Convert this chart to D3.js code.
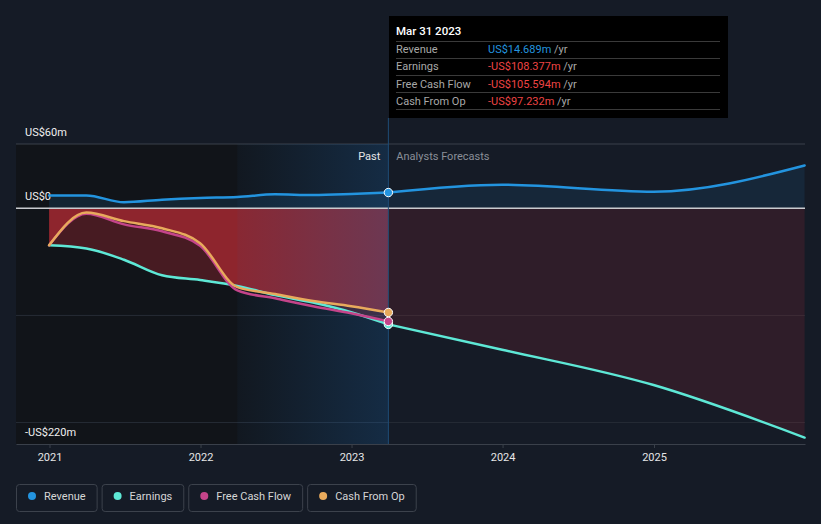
<!DOCTYPE html>
<html>
<head>
<meta charset="utf-8">
<script src="https://cdn.jsdelivr.net/npm/d3@7/dist/d3.min.js"></script>
<style>
  html, body { margin: 0; padding: 0; background: #151b26; }
  svg { display: block; font-family: Roboto, "Open Sans", sans-serif; }
</style>
</head>
<body>
<svg id="chart" width="821" height="524"></svg>
<script>
// ---- data (US$ millions) ----
const pastDates = ["2020-12-31","2021-03-31","2021-06-30","2021-09-30","2021-12-31",
                   "2022-03-31","2022-06-30","2022-09-30","2022-12-31","2023-03-31"];
const revenuePast  = [12, 12, 5.6, 8, 9.6, 10.5, 13, 12.4, 13.3, 14.689];
const earningsPast = [-34.5, -37.5, -48, -62.5, -67, -72.5, -81, -88, -97, -108.377];
const fcfPast      = [-34.5, -5, -15, -21.5, -35, -76.6, -84, -91.4, -98, -105.594];
const cfoPast      = [-34.5, -4, -12, -18.6, -32.6, -73.6, -80, -86.5, -91.4, -97.232];
const forecastDates     = ["2023-03-31","2023-12-31","2024-12-31","2025-12-31"];
const revenueForecast   = [14.689, 22, 15.5, 40];
const earningsForecast  = [-108.377, -132, -165, -214];
const yTickValues = [60, 0, -220];
const yTickLabels = ["US$60m", "US$0", "-US$220m"];
const yGridValues = [-100, -200];
const xTickYears  = [2021, 2022, 2023, 2024, 2025];
const seriesNames  = ["Revenue", "Earnings", "Free Cash Flow", "Cash From Op"];
const seriesColors = ["#2394df", "#5ee8d6", "#c4448a", "#e8aa5c"];
const tooltipTitle  = "Mar 31 2023";
const tooltipValues = ["US$14.689m", "-US$108.377m", "-US$105.594m", "-US$97.232m"];

// ---- setup ----
const parse = d3.timeParse("%Y-%m-%d");
const svg = d3.select("#chart");
const W = 821, H = 524;
const pL = 16, pR = 805, pT = 144, pB = 444;

const x = d3.scaleTime()
  .domain([new Date(2020, 9, 12), new Date(2026, 0, 1)])
  .range([pL, pR]);
const y = d3.scaleLinear().domain([-220, 60]).range([pB, pT]);

const nowDate = parse(pastDates[pastDates.length - 1]);
const xNow = x(nowDate);
const xHighlight = x(parse("2022-03-31"));

const zip = (dates, vals) => dates.map((d, i) => ({ date: parse(d), v: vals[i] }));
const revP = zip(pastDates, revenuePast);
const earnP = zip(pastDates, earningsPast);
const fcfP = zip(pastDates, fcfPast);
const cfoP = zip(pastDates, cfoPast);
const revF = zip(forecastDates, revenueForecast);
const earnF = zip(forecastDates, earningsForecast);

const curve = d3.curveMonotoneX;
const line = d3.line().x(d => x(d.date)).y(d => y(d.v)).curve(curve);
const area = d3.area().x(d => x(d.date)).y0(y(0)).y1(d => y(d.v)).curve(curve);

const defs = svg.append("defs");
const hg = defs.append("linearGradient").attr("id", "hl").attr("x1", 0).attr("x2", 1).attr("y1", 0).attr("y2", 0);
hg.append("stop").attr("offset", "0%").attr("stop-color", "rgb(30,100,170)").attr("stop-opacity", 0.05);
hg.append("stop").attr("offset", "100%").attr("stop-color", "rgb(30,100,170)").attr("stop-opacity", 0.3);

// background
svg.append("rect").attr("width", W).attr("height", H).attr("fill", "#151b26");
// past dark region
svg.append("rect").attr("x", pL).attr("y", pT).attr("width", xNow - pL).attr("height", pB - pT)
  .attr("fill", "#111419");

// grid lines
svg.append("g").selectAll("line").data(yGridValues).join("line")
  .attr("x1", pL).attr("x2", pR).attr("y1", d => y(d)).attr("y2", d => y(d))
  .attr("stroke", "#262c36").attr("stroke-width", 1);
svg.append("line").attr("x1", pL).attr("x2", pR).attr("y1", y(60)).attr("y2", y(60))
  .attr("stroke", "#3a404a").attr("stroke-width", 1);

// fills
svg.append("path").datum(revP).attr("d", area).attr("fill", "rgb(35,148,223)").attr("fill-opacity", 0.13);
svg.append("path").datum(revF).attr("d", area).attr("fill", "rgb(35,148,223)").attr("fill-opacity", 0.1);
svg.append("path").datum(earnF).attr("d", area).attr("fill", "rgb(200,50,60)").attr("fill-opacity", 0.15);
svg.append("path").datum(earnP).attr("d", area).attr("fill", "rgb(200,45,55)").attr("fill-opacity", 0.3);
svg.append("path").datum(cfoP).attr("d", area).attr("fill", "rgb(200,45,55)").attr("fill-opacity", 0.55);

// highlight (last 12 months)
svg.append("rect").attr("x", xHighlight).attr("y", pT).attr("width", xNow - xHighlight).attr("height", pB - pT)
  .attr("fill", "url(#hl)");

// zero line
svg.append("line").attr("x1", pL).attr("x2", pR).attr("y1", y(0)).attr("y2", y(0))
  .attr("stroke", "#c9cbcf").attr("stroke-width", 1.5);

// x axis
const xAxis = d3.axisBottom(x)
  .tickValues(xTickYears.map(yr => new Date(yr, 0, 1)))
  .tickFormat(d3.timeFormat("%Y"))
  .tickSize(4).tickSizeOuter(0);
const gx = svg.append("g").attr("transform", `translate(0,${pB})`).call(xAxis);
gx.select(".domain").attr("stroke", "#3a404a");
gx.selectAll(".tick line").attr("stroke", "#3a404a");
gx.selectAll(".tick text").attr("fill", "#e6e6e6").attr("font-size", 11).attr("dy", "0.95em")
  .attr("font-family", "Roboto, sans-serif");

// vertical now line
svg.append("line").attr("x1", xNow).attr("x2", xNow).attr("y1", 118).attr("y2", pB)
  .attr("stroke", "#1f4d77").attr("stroke-width", 1);

// y labels
svg.append("g").selectAll("text").data(yTickValues).join("text")
  .attr("x", 25)
  .attr("y", (d, i) => y(d) - 8)
  .attr("fill", "#f0f0f0").attr("font-size", 11)
  .text((d, i) => yTickLabels[i]);

// lines
const drawLine = (data, color) => svg.append("path").datum(data).attr("d", line)
  .attr("fill", "none").attr("stroke", color).attr("stroke-width", 2.5).attr("stroke-linecap", "round");
drawLine(earnP, seriesColors[1]);
drawLine(earnF, seriesColors[1]);
drawLine(fcfP, seriesColors[2]);
drawLine(cfoP, seriesColors[3]);
drawLine(revP, seriesColors[0]);
drawLine(revF, seriesColors[0]);

// past / forecast labels
svg.append("text").attr("x", xNow - 8).attr("y", 160).attr("text-anchor", "end")
  .attr("fill", "#e6e6e6").attr("font-size", 11).text("Past");
svg.append("text").attr("x", xNow + 8).attr("y", 160)
  .attr("fill", "#8a8f98").attr("font-size", 11).text("Analysts Forecasts");

// dots at now
const nowVals = [revenuePast, earningsPast, fcfPast, cfoPast].map(a => a[a.length - 1]);
const dotOrder = [1, 2, 3, 0];
svg.append("g").selectAll("circle").data(dotOrder).join("circle")
  .attr("cx", xNow).attr("cy", i => y(nowVals[i])).attr("r", 4.2)
  .attr("fill", i => seriesColors[i]).attr("stroke", "#ffffff").attr("stroke-width", 1);

// tooltip
const tt = svg.append("g");
tt.append("rect").attr("x", 389).attr("y", 16).attr("width", 339).attr("height", 102).attr("fill", "#000000");
tt.append("text").attr("x", 396).attr("y", 35).attr("fill", "#ffffff").attr("font-size", 11.5)
  .attr("font-weight", 500).text(tooltipTitle);
const rowY = [41.5, 58.5, 75.5, 92.5, 109.5];
tt.selectAll("line").data(rowY).join("line")
  .attr("x1", 396).attr("x2", 720).attr("y1", d => d).attr("y2", d => d)
  .attr("stroke", "#3a3a3a").attr("stroke-width", 1);
seriesNames.forEach((name, i) => {
  const by = 53 + i * 17.3;
  tt.append("text").attr("x", 396).attr("y", by).attr("fill", "#a8a8a8").attr("font-size", 11).text(name);
  const t = tt.append("text").attr("x", 488).attr("y", by).attr("font-size", 11);
  t.append("tspan").attr("fill", i === 0 ? "#2394df" : "#ee4444").text(tooltipValues[i]);
  t.append("tspan").attr("fill", "#a8a8a8").text(" /yr");
});

// legend
const lg = svg.append("g");
let lx = 16.5;
seriesNames.forEach((name, i) => {
  const g = lg.append("g");
  const txt = g.append("text").attr("x", lx + 27.5).attr("y", 500).attr("fill", "#d6d6d6")
    .attr("font-size", 11).text(name);
  const tw = txt.node().getComputedTextLength();
  const bw = 27.5 + tw + 11.5;
  g.insert("rect", "text").attr("x", lx).attr("y", 484.5).attr("width", bw).attr("height", 27)
    .attr("rx", 3).attr("fill", "none").attr("stroke", "#3c424c").attr("stroke-width", 1);
  g.append("circle").attr("cx", lx + 15.5).attr("cy", 496).attr("r", 4).attr("fill", seriesColors[i]);
  lx += bw + 5;
});
</script>
</body>
</html>
